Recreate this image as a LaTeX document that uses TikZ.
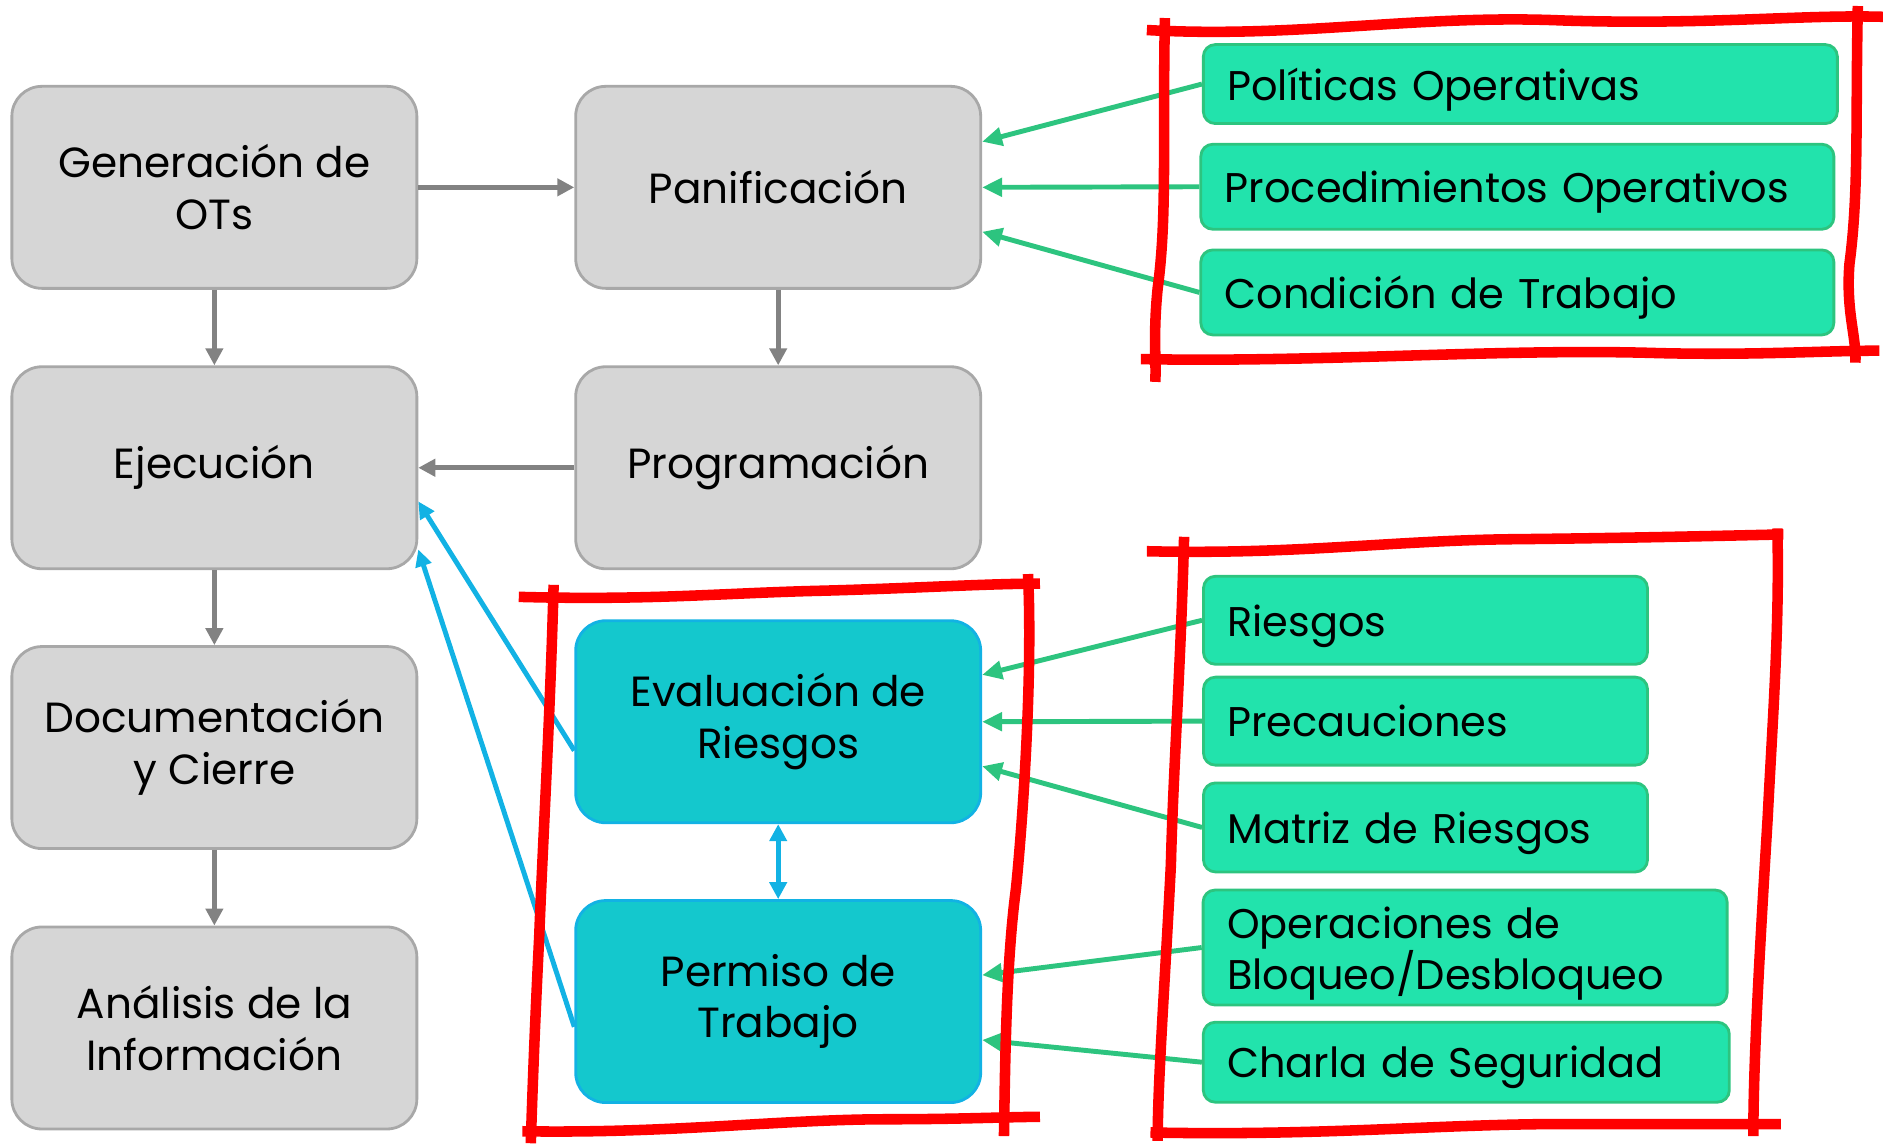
\documentclass[tikz,border=0pt]{standalone}
\usepackage{fontspec}
\setmainfont{Poppins}
\usetikzlibrary{arrows.meta}
\usetikzlibrary{calc}
\definecolor{mgray}{RGB}{214, 214, 214}
\definecolor{mgrayline}{RGB}{168, 168, 168}
\definecolor{marrow}{RGB}{130, 130, 130}
\definecolor{mcyan}{RGB}{20, 200, 205}
\definecolor{mblue}{RGB}{18, 178, 228}
\definecolor{mgreen}{RGB}{34, 227, 172}
\definecolor{mgreenline}{RGB}{45, 196, 127}
\definecolor{mred}{RGB}{255, 0, 0}
\tikzset{box/.style = {draw = mgrayline, fill = mgray, rounded corners = 0.3cm, line width = 0.8pt,
    minimum width = 4.05cm, minimum height = 2.02cm, align = center,
    font = \fontsize{12}{14.7}\selectfont}}
\tikzset{riskbox/.style = {box, draw = mblue, fill = mcyan}}
\tikzset{item/.style = {draw = mgreenline, fill = mgreen, rounded corners = 0.12cm, line width = 0.8pt,
    inner xsep = 0.24cm, inner ysep = 0pt, text width = #1, align = left,
    font = \fontsize{11.8}{14.7}\selectfont}}
\tikzset{oneline/.style = {text depth = 0pt}}
\tikzset{flow/.style = {marrow, line width = 1.5pt, -{Triangle[length = 1.7mm, width = 1.7mm]}}}
\tikzset{feed/.style = {mgreenline, line width = 1.4pt, -{Triangle[length = 2mm, width = 1.8mm]}}}
\tikzset{link/.style = {mblue, line width = 1.4pt, -{Triangle[length = 1.7mm, width = 1.6mm]}}}
\tikzset{frame/.style = {mred, line width = 3pt}}

\begin{document}
\begin{tikzpicture}[x = 0.012009cm, y = -0.012009cm]
    \useasboundingbox (0, 0) rectangle (1568, 953);

    \node [box] (gen) at (178.5, 156) {Generación de\\OTs};
    \node [box] (ejec) at (178.5, 389.5) {Ejecución};
    \node [box] (doc) at (178.5, 622.5) {Documentación\\y Cierre};
    \node [box] (anal) at (178.5, 856) {Análisis de la\\Información};
    \node [box] (pan) at (648, 156) {Panificación};
    \node [box] (prog) at (648, 389.5) {Programación};
    \node [riskbox] (eval) at (648, 601) {Evaluación de\\Riesgos};
    \node [riskbox] (perm) at (648, 834) {Permiso de\\Trabajo};

    \node [item = 5.86cm, oneline, minimum height = 0.79cm] (pol) at (1266, 70) {Políticas Operativas};
    \node [item = 5.85cm, oneline, minimum height = 0.85cm] (proc) at (1263.5, 155.5) {Procedimientos Operativos};
    \node [item = 5.85cm, oneline, minimum height = 0.85cm] (cond) at (1263.5, 243.5) {Condición de Trabajo};
    \node [item = 3.96cm, oneline, minimum height = 0.88cm] (ries) at (1187, 516.5) {Riesgos};
    \node [item = 3.96cm, oneline, minimum height = 0.88cm] (prec) at (1187, 600.5) {Precauciones};
    \node [item = 3.96cm, oneline, minimum height = 0.89cm] (matr) at (1187, 689) {Matriz de Riesgos};
    \node [item = 4.76cm, text depth = 0.5cm, minimum height = 1.15cm] (oper) at (1220, 789) {Operaciones de\\Bloqueo/Desbloqueo};
    \node [item = 4.78cm, oneline, minimum height = 0.80cm] (charla) at (1221, 884.5) {Charla de Seguridad};

    \draw [flow] (gen) -- (pan);
    \draw [flow] (gen) -- (ejec);
    \draw [flow] (pan) -- (prog);
    \draw [flow] (prog) -- (ejec);
    \draw [flow] (ejec) -- (doc);
    \draw [flow] (doc) -- (anal);

    \draw [link] ($(eval.west) + (0, 24)$) -- ($(ejec.east) + (0, 28)$);
    \draw [link] ($(perm.west) + (0, 21)$) -- ($(ejec.east) + (0, 68)$);
    \draw [link, {Triangle[length = 1.7mm, width = 1.7mm]}-{Triangle[length = 1.7mm, width = 1.7mm]}] (eval.south) -- (perm.north);

    \draw [feed] (pol.west) -- ($(pan.east) + (0, -38)$);
    \draw [feed] (proc.west) -- ($(pan.east) + (0, 0)$);
    \draw [feed] (cond.west) -- ($(pan.east) + (0, 37)$);
    \draw [feed] (ries.west) -- ($(eval.east) + (0, -39)$);
    \draw [feed] (prec.west) -- ($(eval.east) + (0, 0)$);
    \draw [feed] (matr.west) -- ($(eval.east) + (0, 37)$);
    \draw [feed] (oper.west) -- ($(perm.east) + (0, -22)$);
    \draw [feed] (charla.west) -- ($(perm.east) + (0, 32)$);

    % red frames
    \draw [frame] (955, 25) .. controls (1080, 32) and (1180, 12) .. (1300, 17) .. controls (1420, 21) and (1500, 12) .. (1568, 14);
    \draw [frame] (970, 15) .. controls (968, 120) and (972, 180) .. (964, 240) .. controls (960, 280) and (963, 300) .. (962, 318);
    \draw [frame] (1547, 5) .. controls (1545, 100) and (1548, 160) .. (1540, 220) .. controls (1537, 260) and (1546, 280) .. (1545, 302);
    \draw [frame] (950, 299) .. controls (1100, 302) and (1250, 290) .. (1380, 294) .. controls (1460, 296) and (1520, 292) .. (1565, 292);

    \draw [frame] (432, 497) .. controls (540, 500) and (600, 494) .. (680, 492) .. controls (760, 490) and (820, 486) .. (866, 486);
    \draw [frame] (461, 487) .. controls (458, 600) and (452, 700) .. (449, 780) .. controls (445, 860) and (443, 920) .. (442, 952);
    \draw [frame] (856, 478) .. controls (860, 560) and (852, 680) .. (846, 740) .. controls (838, 800) and (837, 880) .. (836, 946);
    \draw [frame] (435, 942) .. controls (560, 944) and (650, 932) .. (740, 932) .. controls (800, 932) and (840, 930) .. (866, 930);

    \draw [frame] (955, 459) .. controls (1080, 462) and (1160, 450) .. (1260, 449) .. controls (1360, 448) and (1440, 446) .. (1485, 445);
    \draw [frame] (986, 447) .. controls (983, 560) and (977, 640) .. (975, 720) .. controls (970, 820) and (964, 900) .. (964, 950);
    \draw [frame] (1480, 440) .. controls (1482, 520) and (1476, 600) .. (1472, 680) .. controls (1466, 780) and (1460, 880) .. (1460, 946);
    \draw [frame] (958, 943) .. controls (1100, 946) and (1200, 936) .. (1300, 936) .. controls (1400, 936) and (1460, 936) .. (1483, 936);
\end{tikzpicture}
\end{document}
